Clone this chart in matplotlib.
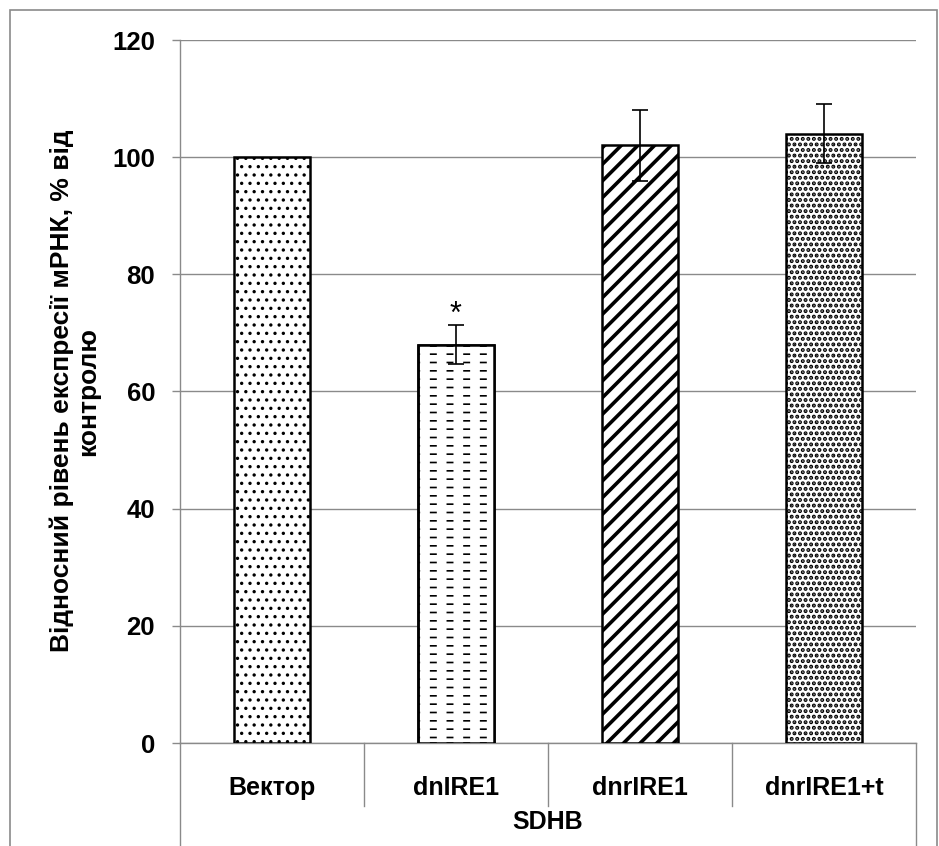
import matplotlib
matplotlib.use("Agg")
import matplotlib.pyplot as plt
import numpy as np
from matplotlib.patches import Rectangle

# дані
categories = ['Вектор', 'dnIRE1', 'dnrIRE1', 'dnrIRE1+t']
values = [100, 68, 102, 104]
errors = [0, 3.3, 6.0, 5.0]
hatches = ['..', '--', '//', '...']
hatch_lw = [1.2, 1.2, 2.6, 2.0]
group_label = 'SDHB'
ylabel_text = 'Відносний рівень експресії мРНК, % від\nконтролю'

plt.rcParams['font.family'] = ['Liberation Sans', 'DejaVu Sans']
grey = '#8a8a8a'

fig = plt.figure(figsize=(9.39, 8.46), dpi=100)
ax = fig.add_axes([180 / 939, 103 / 846, 736 / 939, 703 / 846])

# рамка навколо всього малюнка
fig.patches.append(Rectangle((10 / 939, -0.05), 927 / 939, 1.05 - 10 / 846,
                             transform=fig.transFigure, fill=False,
                             edgecolor=grey, lw=1.2))

x = np.arange(len(categories))
bars = ax.bar(x, values, width=0.41, color='white', edgecolor='black',
              linewidth=1.8, zorder=3)
for b, h, lw in zip(bars, hatches, hatch_lw):
    b.set_hatch(h)
    try:
        b.set_hatch_linewidth(lw)
    except AttributeError:
        pass

# розриви у горизонтальних лініях для dnIRE1 (штрихи)
over = ax.bar(x[1], values[1], width=0.41, color='none', edgecolor='white',
              linewidth=0, hatch='|', zorder=3.5)
try:
    over[0].set_hatch_linewidth(7)
except AttributeError:
    pass
ax.bar(x[1], values[1], width=0.41, color='none', edgecolor='black',
       linewidth=1.8, zorder=3.6)

# похибки
err = np.array(errors, dtype=float)
mask = err > 0
ax.errorbar(x[mask], np.array(values)[mask], yerr=err[mask], fmt='none',
            ecolor='black', elinewidth=1.2, capsize=6, capthick=1.2, zorder=4)

# зірочка
ax.annotate('*', (x[1], values[1] + errors[1]), xytext=(0, -3),
            textcoords='offset points', ha='center', va='bottom',
            fontsize=22, zorder=5)

ax.set_ylim(0, 120)
ax.set_xlim(-0.5, len(categories) - 0.5)
ax.set_yticks(np.arange(0, 121, 20))
ax.yaxis.grid(True, color=grey, lw=1.0, zorder=0)
ax.set_axisbelow(True)
for s in ['top', 'right']:
    ax.spines[s].set_visible(False)
ax.spines['left'].set_color(grey)
ax.spines['bottom'].set_color(grey)
ax.spines['left'].set_linewidth(1.0)
ax.spines['bottom'].set_linewidth(1.0)
ax.tick_params(axis='y', colors=grey, length=6, width=1.0, pad=12,
               labelcolor='black', labelsize=18.5)
for t in ax.get_yticklabels():
    t.set_fontweight('bold')
ax.set_xticks([])

# підписи категорій та роздільники
trans = ax.get_xaxis_transform()
for i, c in enumerate(categories):
    ax.text(i, -0.064, c, transform=trans, ha='center', va='center',
            fontsize=18, fontweight='bold')
for k in range(1, len(categories)):
    ax.plot([k - 0.5, k - 0.5], [0, -0.09], transform=trans, color=grey,
            lw=1.0, clip_on=False)
for k in [-0.5, len(categories) - 0.5]:
    ax.plot([k, k], [0, -0.16], transform=trans, color=grey, lw=1.0,
            clip_on=False)
ax.text((len(categories) - 1) / 2, -0.113, group_label, transform=trans,
        ha='center', va='center', fontsize=18, fontweight='bold')

fig.text(75 / 939, 1 - 391 / 846, ylabel_text, rotation=90, ha='center',
         va='center', fontsize=19, fontweight='bold', linespacing=1.1,
         multialignment='center')

fig.savefig('out.png', dpi=100)
